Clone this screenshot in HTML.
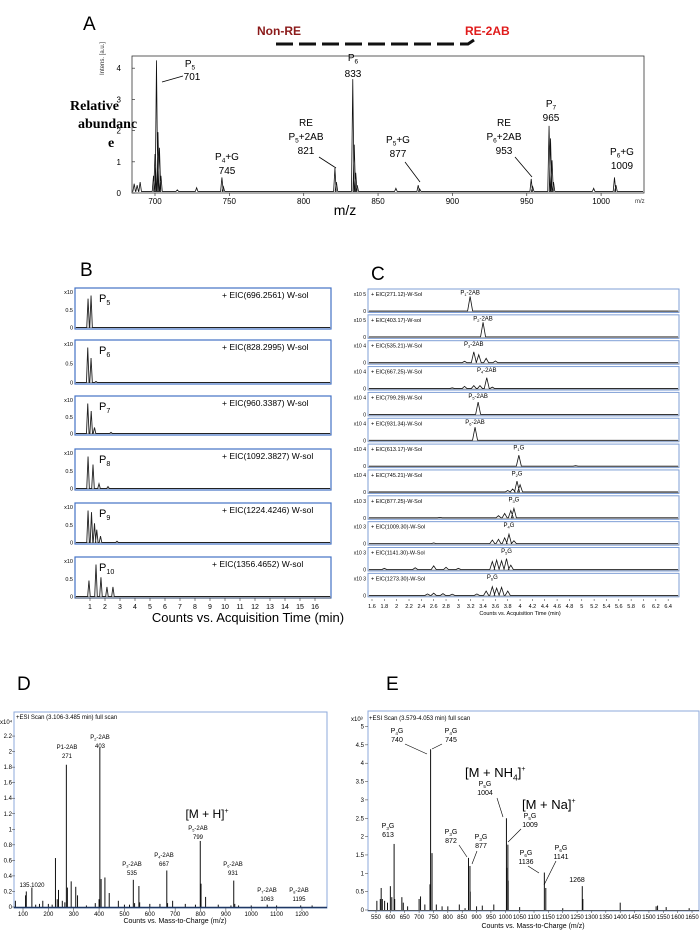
<!DOCTYPE html>
<html><head><meta charset="utf-8"><style>
html,body{margin:0;padding:0;background:#fff;}
svg{display:block;font-family:"Liberation Sans",sans-serif;}
</style></head><body>
<svg id="fig" width="700" height="930" viewBox="0 0 700 930">
<rect width="700" height="930" fill="#fff"/>
<!-- Panel A static -->
<text x="83" y="30" font-size="19">A</text>
<text x="257" y="35" font-size="12" font-weight="bold" fill="#8b1a1a">Non-RE</text>
<text x="465" y="35" font-size="12" font-weight="bold" fill="#e01b1b">RE-2AB</text>
<path d="M276 44 H468 L474 40" stroke="#111" stroke-width="3" fill="none" stroke-dasharray="17,6"/>
<g font-family="Liberation Serif,serif" font-weight="bold" font-size="14">
<text x="70" y="110">Relative</text><text x="78" y="128">abundanc</text><text x="108" y="147">e</text></g>
<text transform="translate(104,75) rotate(-90)" font-size="6" fill="#333">Intens. [a.u.]</text>
<text x="345" y="215" font-size="14" text-anchor="middle">m/z</text>
<text x="635" y="203" font-size="6" fill="#333">m/z</text>
<rect x="132" y="56" width="512" height="137" fill="none" stroke="#333" stroke-width="0.8"/>
<g id="gA"></g>
<!-- Panel B -->
<text x="80" y="276" font-size="19">B</text>
<g id="gB"></g>
<text x="248" y="622" font-size="13" text-anchor="middle">Counts vs. Acquisition Time (min)</text>
<!-- Panel C -->
<text x="371" y="280" font-size="19">C</text>
<g id="gC"></g>
<text x="520" y="615" font-size="5.5" text-anchor="middle">Counts vs. Acquisition Time (min)</text>
<!-- Panel D -->
<text x="17" y="690" font-size="19">D</text>
<rect x="14" y="712" width="313" height="196" fill="none" stroke="#8eaadb" stroke-width="1"/>
<text x="16" y="719" font-size="6">+ESI Scan (3.106-3.485 min) full scan</text>
<text x="0" y="724" font-size="6">x10⁴</text>
<text x="175" y="923" font-size="7" text-anchor="middle">Counts vs. Mass-to-Charge (m/z)</text>
<g id="gD"></g>
<!-- Panel E -->
<text x="386" y="690" font-size="19">E</text>
<rect x="368" y="711" width="331" height="200" fill="none" stroke="#8eaadb" stroke-width="1"/>
<text x="369" y="720" font-size="6">+ESI Scan (3.579-4.053 min) full scan</text>
<text x="351" y="721" font-size="6">x10³</text>
<text x="533" y="928" font-size="7" text-anchor="middle">Counts vs. Mass-to-Charge (m/z)</text>
<g id="gE"></g>
</svg>
<script>
// ---------- Panel A data ----------
const aMz=[686,688,690,699,700,701,702,703,704,715,728,745,746,821,822,833,834,835,836,862,877,878,953,954,965,966,967,968,995,1009,1010];
const aInt=[0.25,0.2,0.3,0.5,1.2,4.2,1.9,1.4,0.5,0.05,0.12,0.45,0.15,0.75,0.3,3.6,1.5,0.6,0.2,0.1,0.2,0.08,0.4,0.15,2.1,1.7,1.0,0.3,0.1,0.45,0.2];
const aXTicks=[700,750,800,850,900,950,1000];
const aYTicks=[0,1,2,3,4];
// ---------- Panel B data ----------
const bTitles=['696.2561','828.2995','960.3387','1092.3827','1224.4246','1356.4652'];
const bSubs=['5','6','7','8','9','10'];
const bTimes=[[0.87,1.07],[0.85,1.07,1.4],[0.85,1.08,1.3,2.4],[0.87,1.2,1.6,2.2],[0.87,1.1,1.3,1.45,1.7,2.8],[0.93,1.4,1.73,2.13,2.53]];
const bHeights=[[0.9,1.0],[1.0,0.7,0.03],[1.0,0.75,0.2,0.04],[1.0,0.75,0.15,0.06],[1.0,0.95,0.6,0.4,0.2,0.04],[0.5,1.0,0.6,0.3,0.3]];
const bXTicks=[1,2,3,4,5,6,7,8,9,10,11,12,13,14,15,16];
// ---------- Panel C data ----------
const cTitles=['271.12','403.17','535.21','667.25','799.29','931.34','613.17','745.21','877.25','1009.30','1141.30','1273.30'];
const cExp=['5','5','4','4','4','4','4','4','3','3','3','3'];
const cPeakLbl=['1-2AB','2-2AB','3-2AB','4-2AB','5-2AB','6-2AB','1G','2G','3G','4G','5G','6G'];
const cTimes=[[3.19],[3.4],[3.1,3.25,3.33,3.45,3.6],[2.9,3.1,3.25,3.35,3.46,3.55],[3.32],[3.27],[3.98,4.9],[3.8,3.88,3.95,4.0],[2.7,3.65,3.75,3.85,3.9],[2.6,3.55,3.65,3.75,3.82,3.9],[1.8,2.3,2.6,2.8,3.0,3.55,3.62,3.7,3.78,3.85],[2.5,2.6,2.75,2.9,3.3,3.45,3.55,3.62,3.7,3.8]];
const cHeights=[[1],[1],[0.1,0.75,0.55,0.3,0.12],[0.05,0.15,0.2,0.2,0.75,0.1],[0.85],[0.9],[0.75,0.03],[0.1,0.2,0.75,0.5],[0.03,0.15,0.3,0.5,0.65],[0.05,0.25,0.3,0.4,0.65,0.2],[0.08,0.12,0.25,0.15,0.08,0.55,0.65,0.6,0.75,0.3],[0.1,0.15,0.12,0.08,0.1,0.3,0.6,0.5,0.55,0.3]];
const cXTicks=[1.6,1.8,2,2.2,2.4,2.6,2.8,3,3.2,3.4,3.6,3.8,4,4.2,4.4,4.6,4.8,5,5.2,5.4,5.6,5.8,6,6.2,6.4];
// ---------- Panel D data ----------
const dMz=[70,110,113,135,150,165,178,200,215,228,235,240,255,265,271,275,290,308,315,350,385,400,403,408,423,440,476,500,520,535,540,557,560,600,640,667,670,690,740,780,799,802,820,870,920,931,935,950,1000,1063,1100,1195,1240];
const dInt=[0.08,0.15,0.2,0.25,0.03,0.04,0.08,0.04,0.03,0.63,0.1,0.22,0.08,0.06,1.83,0.25,0.33,0.26,0.15,0.02,0.05,0.1,2.05,0.36,0.38,0.18,0.08,0.03,0.03,0.35,0.05,0.27,0.06,0.04,0.04,0.47,0.05,0.08,0.04,0.03,0.85,0.3,0.13,0.03,0.02,0.34,0.04,0.02,0.02,0.03,0.02,0.02,0.02];
const dXTicks=[100,200,300,400,500,600,700,800,900,1000,1100,1200];
const dYTicks=[0,0.2,0.4,0.6,0.8,1,1.2,1.4,1.6,1.8,2,2.2];
// ---------- Panel E data ----------
const eMz=[553,565,568,572,580,590,600,605,613,615,640,645,660,700,705,720,738,740,745,760,780,800,840,860,872,877,878,900,920,960,1004,1005,1009,1010,1050,1136,1141,1200,1268,1270,1400,1525,1530,1560,1640];
const eInt=[0.25,0.3,0.6,0.3,0.25,0.2,0.65,0.35,1.8,0.3,0.35,0.2,0.1,0.3,0.37,0.15,0.7,4.38,1.55,0.15,0.1,0.1,0.15,0.05,1.42,1.2,0.5,0.1,0.12,0.15,2.5,1.15,1.78,0.8,0.08,1.02,0.6,0.05,0.65,0.3,0.2,0.1,0.12,0.08,0.05];
const eXTicks=[550,600,650,700,750,800,850,900,950,1000,1050,1100,1150,1200,1250,1300,1350,1400,1450,1500,1550,1600,1650];
const eYTicks=[0,0.5,1,1.5,2,2.5,3,3.5,4,4.5,5];

const NS='http://www.w3.org/2000/svg';
function mk(tag,parent){const e=document.createElementNS(NS,tag);parent.appendChild(e);return e;}
function txt(parent,x,y,s,size,anchor){const t=mk('text',parent);t.setAttribute('x',x);t.setAttribute('y',y);t.setAttribute('font-size',size);if(anchor)t.setAttribute('text-anchor',anchor);t.textContent=s;return t;}
function line(parent,x1,y1,x2,y2,c,w){const l=mk('line',parent);l.setAttribute('x1',x1);l.setAttribute('y1',y1);l.setAttribute('x2',x2);l.setAttribute('y2',y2);l.setAttribute('stroke',c||'#000');l.setAttribute('stroke-width',w||0.8);return l;}
function sub(parent,x,y,pre,s,post,size,anchor){const t=mk('text',parent);t.setAttribute('x',x);t.setAttribute('y',y);t.setAttribute('font-size',size);if(anchor)t.setAttribute('text-anchor',anchor);
 t.appendChild(document.createTextNode(pre));const ts=mk('tspan',t);ts.setAttribute('font-size',size*0.65);ts.setAttribute('dy',size*0.25);ts.textContent=s;const t2=mk('tspan',t);t2.setAttribute('dy',-size*0.25);t2.textContent=post;return t;}
// chromatogram-like trace from peaks
function trace(parent,x0,x1,base,peaksX,peaksH,hw,color,sw){
 const idx=peaksX.map((v,i)=>i).sort((a,b)=>peaksX[a]-peaksX[b]);
 let d='M'+x0+' '+base;
 idx.forEach(i=>{const px=peaksX[i],ph=peaksH[i];d+=' L'+(px-hw)+' '+base+' L'+px+' '+(base-ph)+' L'+(px+hw)+' '+base;});
 d+=' L'+x1+' '+base;
 const p=mk('path',parent);p.setAttribute('d',d);p.setAttribute('fill','none');p.setAttribute('stroke',color||'#111');p.setAttribute('stroke-width',sw||0.8);return p;}

// ===== Panel A =====
(function(){
 const g=document.getElementById('gA');
 const xA=m=>155+(m-700)*1.487, yA=v=>193-v*31.2;
 aXTicks.forEach(t=>{const l=line(g,xA(t),193,xA(t),196,'#333',0.7);
  
  
  const s=txt(g,xA(t),204,String(t),8,'middle');
  
  });
 aYTicks.forEach(t=>{const s=txt(g,121,yA(t)+3,String(t),8,'end');
  
  
  line(g,132,yA(t),135,yA(t),'#333',0.7);});
 const p=trace(g,133,643,yA(0.05),aMz.map(xA),aInt.map(v=>v*31.2),1.3,'#111',0.8);
 
 
 const ann=mk('g',g);ann.setAttribute('font-size','9');
 
 
 sub(ann,190,67,'P','5','',10,'middle');txt(ann,192,80,'701',10,'middle');line(ann,162,82,183,76,'#000',0.8);
 sub(ann,353,61,'P','6','',10,'middle');txt(ann,353,77,'833',10,'middle');
 txt(ann,306,126,'RE',10,'middle');sub(ann,306,140,'P','5','+2AB',10,'middle');txt(ann,306,154,'821',10,'middle');line(ann,319,157,336,168,'#000',0.8);
 sub(ann,227,160,'P','4','+G',10,'middle');txt(ann,227,174,'745',10,'middle');
 sub(ann,398,143,'P','5','+G',10,'middle');txt(ann,398,157,'877',10,'middle');line(ann,405,162,420,182,'#000',0.8);
 txt(ann,504,126,'RE',10,'middle');sub(ann,504,140,'P','6','+2AB',10,'middle');txt(ann,504,154,'953',10,'middle');line(ann,515,157,532,177,'#000',0.8);
 sub(ann,551,107,'P','7','',10,'middle');txt(ann,551,121,'965',10,'middle');
 sub(ann,622,155,'P','6','+G',10,'middle');txt(ann,622,169,'1009',10,'middle');
})();

// ===== Panel B =====
(function(){
 const g=document.getElementById('gB');
 const tops=[288,340,396,449,503,557], bots=[329,384,435,490,544,598];
 const xB=t=>90+(t-1)*15;
 bTitles.forEach((ttl,i)=>{
  const r=mk('rect',g);r.setAttribute('x',75);r.setAttribute('y',tops[i]);r.setAttribute('width',256);r.setAttribute('height',bots[i]-tops[i]);r.setAttribute('fill','none');r.setAttribute('stroke','#4472c4');r.setAttribute('stroke-width',1.2);
  
  
  const H=bots[i]-tops[i]-9, base=bots[i]-1.5;
  line(g,75,base,331,base,'#888',0.8);
  const p=trace(g,76,330,base,bTimes[i].map(xB),bHeights[i].map(v=>v*H),1.3,'#222',0.9);
  
  
  const lb=sub(g,99,tops[i]+14,'P',bSubs[i],'',11);
  
  
  const et=txt(g,222+(i==5?-10:0),tops[i]+10,'+ EIC('+ttl+') W-sol',8.5);
  
  
  txt(g,73,tops[i]+6,'x10',5.5,'end');txt(g,73,base+2,'0',5.5,'end');txt(g,73,tops[i]+H/2+8,'0.5',5.5,'end');
 });
 line(g,75,598,331,598,'#555',0.8);
 bXTicks.forEach(t=>{line(g,xB(t),598,xB(t),601,'#333',0.6);
  const s=txt(g,xB(t),609,String(t),7,'middle');
  
  });
})();

// ===== Panel C =====
(function(){
 const g=document.getElementById('gC');
 const xC=t=>372+(t-1.6)*61.7;
 cTitles.forEach((ttl,i)=>{
  const top=289+i*25.85, h=23.5, base=top+h-1.5;
  const r=mk('rect',g);r.setAttribute('x',368);r.setAttribute('y',top);r.setAttribute('width',311);r.setAttribute('height',h);r.setAttribute('fill','none');r.setAttribute('stroke','#7f9fd6');r.setAttribute('stroke-width',1);
  
  
  line(g,368,base+0.5,679,base+0.5,'#aaa',1);
  const H=h-9;
  const p=trace(g,369,678,base,cTimes[i].map(xC),cHeights[i].map(v=>v*H),2.5,'#111',0.8);
  
  
  const et=txt(g,371,top+7,'+ EIC('+ttl+')-W-'+(i==1?'sol':'Sol'),5.5);
  
  
  txt(g,366,top+7,'x10 '+cExp[i],5,'end');txt(g,366,base+2,'0',5,'end');
  let mx=0;cHeights[i].forEach((v,k)=>{if(v>cHeights[i][mx])mx=k;});
  const lp=cPeakLbl[i];
  const pl=sub(g,xC(cTimes[i][mx]),base-H-2,'P',lp.charAt(0),lp.slice(1),6,'middle');
  
  
 });
 cXTicks.forEach(t=>{line(g,xC(t),599,xC(t),601,'#333',0.5);
  const s=txt(g,xC(t),608,String(t),5.5,'middle');
  
  });
})();

// ===== Panel D =====
(function(){
 const g=document.getElementById('gD');
 const xD=m=>23+(m-100)*0.2536, yD=v=>907-v*77.7;
 dYTicks.forEach(t=>{const s=txt(g,12,yD(t)+2,String(t),6,'end');
  
  
  line(g,12,yD(t),15,yD(t),'#333',0.5);});
 dXTicks.forEach(t=>{line(g,xD(t),908,xD(t),911,'#333',0.5);
  const s=txt(g,xD(t),916,String(t),6,'middle');
  
  });
 dMz.forEach((m,i)=>{const l=line(g,xD(m),yD(0),xD(m),yD(dInt[i]),'#111',1);
  
  });
 line(g,14,907.5,327,907.5,'#1f3864',1.6);
 const a=mk('g',g);a.setAttribute('font-size','6');
 
 
 txt(a,67,749,'P1-2AB',6,'middle');txt(a,67,758,'271',6,'middle');
 sub(a,100,739,'P','2','-2AB',6,'middle');txt(a,100,748,'403',6,'middle');
 sub(a,132,866,'P','3','-2AB',6,'middle');txt(a,132,875,'535',6,'middle');
 sub(a,164,857,'P','4','-2AB',6,'middle');txt(a,164,866,'667',6,'middle');
 sub(a,198,830,'P','5','-2AB',6,'middle');txt(a,198,839,'799',6,'middle');
 sub(a,233,866,'P','6','-2AB',6,'middle');txt(a,233,875,'931',6,'middle');
 sub(a,267,892,'P','7','-2AB',6,'middle');txt(a,267,901,'1063',6,'middle');
 sub(a,299,892,'P','8','-2AB',6,'middle');txt(a,299,901,'1195',6,'middle');
 txt(a,32,887,'135.1020',6,'middle');
 const m=txt(g,207,818,'[M + H]',12,'middle');const sp=mk('tspan',m);sp.setAttribute('font-size','7');sp.setAttribute('dy','-5');sp.textContent='+';
 
 
})();

// ===== Panel E =====
(function(){
 const g=document.getElementById('gE');
 const xE=m=>376+(m-550)*0.2873, yE=v=>910-v*36.7;
 eYTicks.forEach(t=>{const s=txt(g,364,yE(t)+2,String(t),6,'end');
  
  
  line(g,365,yE(t),368,yE(t),'#333',0.5);});
 eXTicks.forEach(t=>{line(g,xE(t),911,xE(t),913,'#333',0.5);
  const s=txt(g,xE(t),919,String(t),6,'middle');
  
  });
 eMz.forEach((m,i)=>{const l=line(g,xE(m),yE(0),xE(m),yE(eInt[i]),'#111',1);
  
  });
 line(g,368,910.5,699,910.5,'#333',0.8);
 const a=mk('g',g);
 
 
 sub(a,397,733,'P','4','G',7,'middle');txt(a,397,742,'740',7,'middle');
 sub(a,451,733,'P','4','G',7,'middle');txt(a,451,742,'745',7,'middle');
 line(a,405,744,427,754,'#000',0.6);line(a,432,749,442,744,'#000',0.6);
 sub(a,485,786,'P','5','G',7,'middle');txt(a,485,795,'1004',7,'middle');line(a,497,798,503,817,'#000',0.6);
 sub(a,530,818,'P','5','G',7,'middle');txt(a,530,827,'1009',7,'middle');line(a,521,829,508,842,'#000',0.6);
 sub(a,388,828,'P','3','G',7,'middle');txt(a,388,837,'613',7,'middle');
 sub(a,451,834,'P','3','G',7,'middle');txt(a,451,843,'872',7,'middle');line(a,459,845,467,857,'#000',0.6);
 sub(a,481,839,'P','3','G',7,'middle');txt(a,481,848,'877',7,'middle');line(a,477,851,472,864,'#000',0.6);
 sub(a,526,855,'P','6','G',7,'middle');txt(a,526,864,'1136',7,'middle');line(a,528,866,539,873,'#000',0.6);
 sub(a,561,850,'P','6','G',7,'middle');txt(a,561,859,'1141',7,'middle');line(a,556,861,544,885,'#000',0.6);
 txt(a,577,882,'1268',7,'middle');
 const m1=sub(g,465,777,'[M + NH','4',']',13);const s1=mk('tspan',m1);s1.setAttribute('font-size','7');s1.setAttribute('dy','-6');s1.textContent='+';
 
 
 const m2=txt(g,522,809,'[M + Na]',13);const s2=mk('tspan',m2);s2.setAttribute('font-size','7');s2.setAttribute('dy','-6');s2.textContent='+';
 
 
})();
</script>
</body></html>
